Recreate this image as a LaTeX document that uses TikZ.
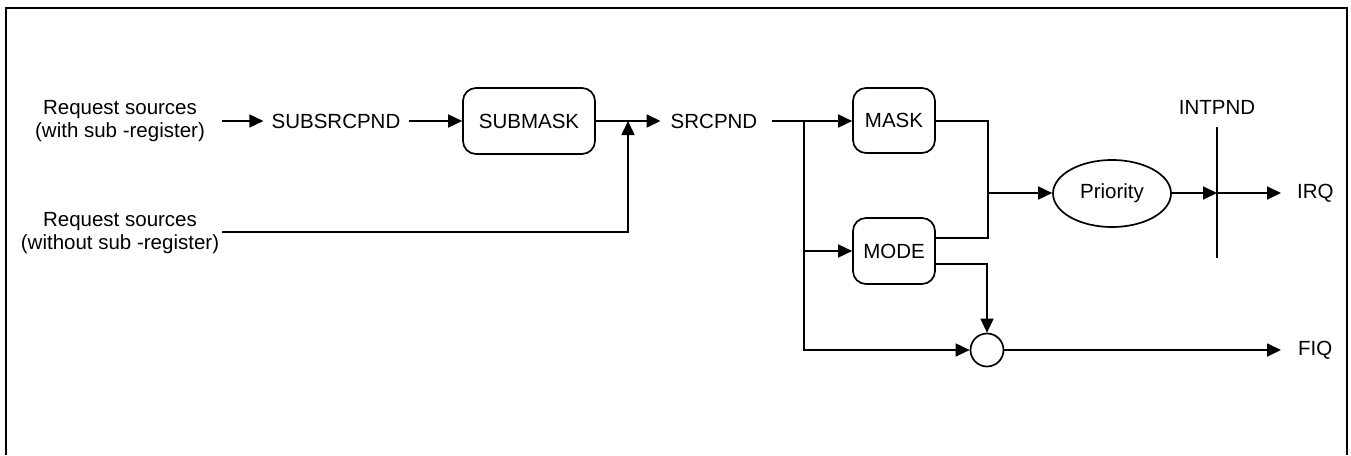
\documentclass[tikz,border=0pt]{standalone}
\usepackage{fontspec}
\setmainfont{Liberation Sans}
\usetikzlibrary{arrows.meta,shapes.geometric}
\tikzset{
  every node/.style={font=\fontsize{20.5}{23}\selectfont, inner sep=0pt},
  conn/.style={line width=1.7pt},
  arr/.style={conn, -{Triangle[length=14pt,width=13pt]}},
  regbox/.style={draw, line width=1.7pt, rectangle, rounded corners=13pt, minimum height=65pt},
  lbl/.style={align=center},
}
\begin{document}
\begin{tikzpicture}[x=1pt,y=-1pt]
\useasboundingbox (0,0) rectangle (1351,455);
% frame
\draw[line width=2.5pt] (6,455) -- (6,8) -- (1347,8) -- (1347,455);

% nodes
\node[lbl] (src1) at (120,121) {Request sources\\(with sub -register)};
\node[lbl] (src2) at (120,233) {Request sources\\(without sub -register)};
\node[inner xsep=8pt] (subsrc) at (336,121) {SUBSRCPND};
\node[regbox, minimum width=132pt, minimum height=66pt] (submask) at (529,121) {SUBMASK};
\node[inner xsep=10pt] (srcpnd) at (714,121) {SRCPND};
\node[regbox, minimum width=82pt] (mask) at (894,120.5) {MASK};
\node[regbox, minimum width=82pt, minimum height=66pt] (mode) at (894,251) {MODE};
\node[draw, line width=1.7pt, ellipse, minimum width=118pt, minimum height=67pt] (prio) at (1112,193.5) {Priority};
\node[draw, line width=1.7pt, circle, minimum size=33pt] (circ) at (987,350) {};
\node (intpnd) at (1217,107) {INTPND};
\node[anchor=west] (irq) at (1297,193) {IRQ};
\node[anchor=west] (fiq) at (1298,350) {FIQ};

% connector points
\coordinate (s1o) at (222,121);
\coordinate (s2o) at (222,232);
\coordinate (j1) at (628,121);
\coordinate (sro) at (772,121);
\coordinate (br) at (804,121);
\coordinate (jp) at (988,193);
\coordinate (it) at (1217,127);
\coordinate (ib) at (1217,258);
\coordinate (ix) at (1217,193);
\coordinate (irqt) at (1281,193);
\coordinate (fiqt) at (1281,350);

% connectors
\draw[arr] (s1o) -- (subsrc.west);
\draw[arr] (subsrc.east) -- (submask.west);
\draw[arr] (submask.east) -- (srcpnd.west);
\draw[arr] (s2o) -| (j1);
\draw[conn] (sro) -- (br);
\draw[arr] (br) -- (mask.west |- br);
\draw[arr] (br) |- (mode.west);
\draw[arr] (br) |- (circ.west);
\draw[conn] (mask.east |- br) -| (jp);
\draw[conn] ([yshift=13pt]mode.east) -| (jp);
\draw[arr] (jp) -- (prio.west |- jp);
\draw[arr] (prio.east |- jp) -- (ix);
\draw[conn] (it) -- (ib);
\draw[arr] (ix) -- (irqt);
\draw[arr] ([yshift=-13pt]mode.east) -| (circ.north);
\draw[arr] (circ.east) -- (fiqt);
\end{tikzpicture}
\end{document}
